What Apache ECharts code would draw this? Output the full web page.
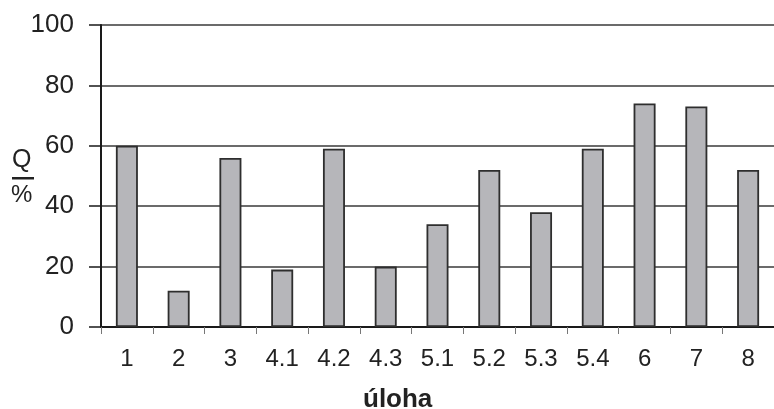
<!DOCTYPE html>
<html>
<head>
<meta charset="utf-8">
<script src="https://cdn.jsdelivr.net/npm/echarts@6/dist/echarts.min.js"></script>
<style>
html,body{margin:0;padding:0;background:#fff;}
#c{width:774px;height:409px;}
</style>
</head>
<body>
<div id="c"></div>
<script>
const categories = ['1','2','3','4.1','4.2','4.3','5.1','5.2','5.3','5.4','6','7','8'];
const values = [60, 12, 56, 19, 59, 20, 34, 52, 38, 59, 74, 73, 52];
const yTicks = [0, 20, 40, 60, 80, 100];
const xName = 'úloha';

const chart = echarts.init(document.getElementById('c'), null, {renderer:'canvas'});
const FONT = '"Liberation Sans", Arial, sans-serif';
chart.setOption({
  backgroundColor: '#ffffff',
  animation: false,
  grid: {left: 101, top: 25, width: 680, bottom: 82, containLabel: false},
  xAxis: {
    type: 'category',
    data: categories,
    axisLine: {lineStyle: {color: '#1a1a1a', width: 2}},
    axisTick: {show: true, length: 7, lineStyle: {color: '#777', width: 1}},
    axisLabel: {color: '#222', fontSize: 24, fontFamily: FONT, margin: 20}
  },
  yAxis: {
    type: 'value',
    min: yTicks[0], max: yTicks[yTicks.length-1], interval: 20,
    axisLine: {show: true, lineStyle: {color: '#1a1a1a', width: 2}},
    axisTick: {show: true, inside: false, length: 12, lineStyle: {color: '#1a1a1a', width: 1.5}},
    axisLabel: {color: '#222', fontSize: 26, fontFamily: FONT, margin: 27},
    splitLine: {show: true, lineStyle: {color: '#3a3a3a', width: 1.5}}
  },
  series: [{
    type: 'bar',
    data: values,
    barWidth: 22,
    itemStyle: {color: '#b6b6ba', borderColor: '#2e2e2e', borderWidth: 1.8}
  }],
  graphic: [
    {type:'text', left: 363, top: 387, style:{text: xName, font: 'bold 26px ' + FONT, fill:'#222'}},
    {type:'text', left: 12, top: 148, style:{text:'Q', font:'25px ' + FONT, fill:'#222'}},
    {type:'rect', left: 12, top: 177, shape:{x: 0, y: 0, width: 22, height: 2.5}, style:{fill:'#222'}},
    {type:'text', left: 11, top: 183, style:{text:'%', font:'24px ' + FONT, fill:'#222'}}
  ]
});
</script>
</body>
</html>
